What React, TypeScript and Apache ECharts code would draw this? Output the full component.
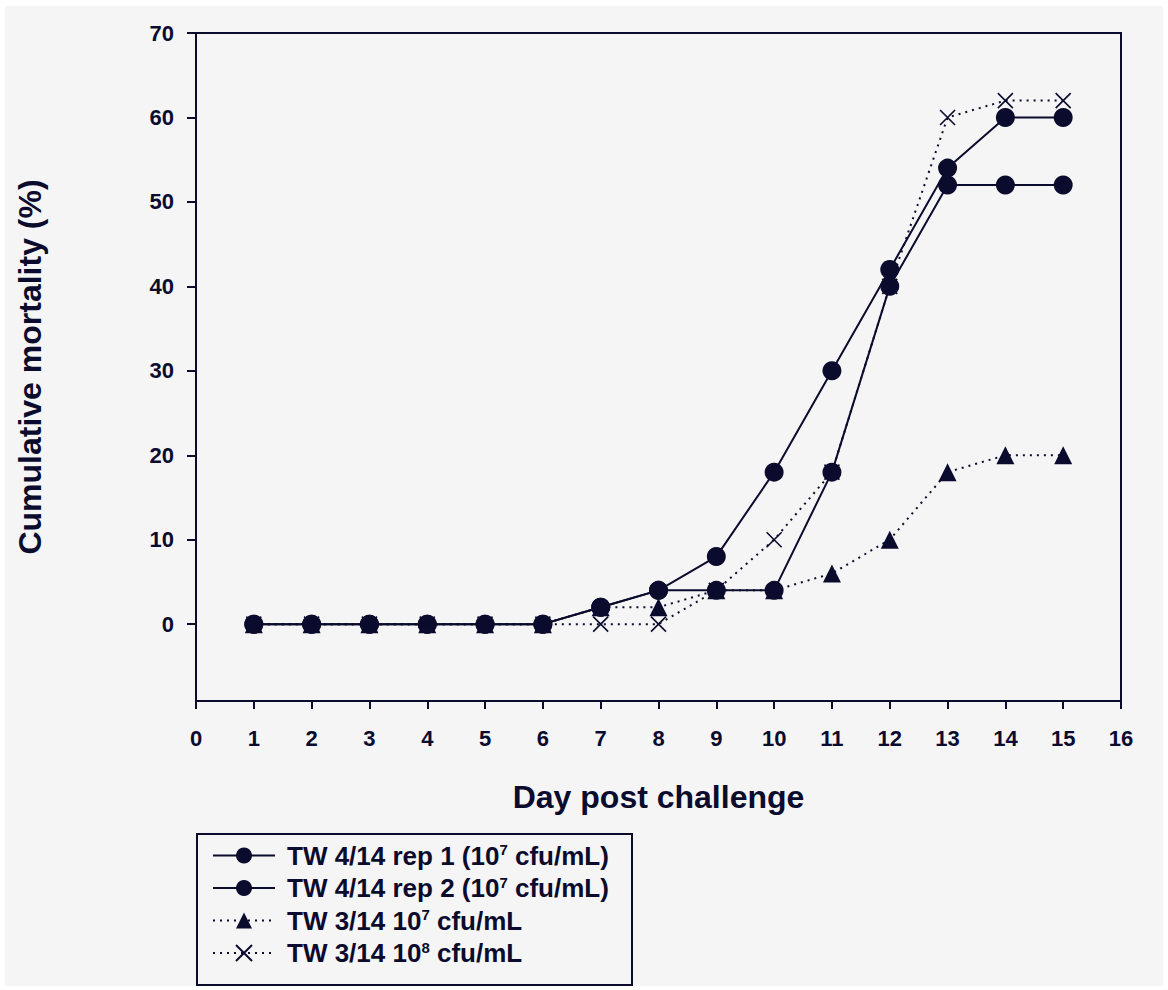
import React, { useEffect, useRef } from "react";
import * as echarts from "echarts";

const days = [1, 2, 3, 4, 5, 6, 7, 8, 9, 10, 11, 12, 13, 14, 15];
const rep1 = [0, 0, 0, 0, 0, 0, 2, 4, 8, 18, 30, 42, 54, 60, 60];
const rep2 = [0, 0, 0, 0, 0, 0, 2, 4, 4, 4, 18, 40, 52, 52, 52];
const tw314e7 = [0, 0, 0, 0, 0, 0, 2, 2, 4, 4, 6, 10, 18, 20, 20];
const tw314e8 = [0, 0, 0, 0, 0, 0, 0, 0, 4, 10, 18, 40, 60, 62, 62];
const seriesNames = ["rep1", "rep2", "e7", "e8"];
const legendLabels = [
  "TW 4/14 rep 1 (10{sup|7} cfu/mL)",
  "TW 4/14 rep 2 (10{sup|7} cfu/mL)",
  "TW 3/14 10{sup|7} cfu/mL",
  "TW 3/14 10{sup|8} cfu/mL",
];
const yTicks = [0, 10, 20, 30, 40, 50, 60, 70];

const INK = "#0b0b2e";
const FONT = "Liberation Sans, Arial, sans-serif";
const CROSS = "path://M0,0L10,10M10,0L0,10";

export default function App() {
  const ref = useRef<HTMLDivElement>(null);
  useEffect(() => {
    if (!ref.current) return;
    const chart = echarts.init(ref.current, null, { renderer: "svg" });
    const pts = (arr: number[]) => days.map((d, i) => [d, arr[i]]);
    const solid = { color: INK, width: 2, type: "solid" as const };
    const dotted = { color: INK, width: 2, type: [2, 5] as any };
    chart.setOption({
      animation: false,
      backgroundColor: "#ffffff",
      textStyle: { fontFamily: FONT },
      graphic: [
        { type: "rect", z: -10, shape: { x: 5, y: 6, width: 1158, height: 980 }, style: { fill: "#f5f5f5" } },
        { type: "rect", z: 5, shape: { x: 197, y: 834, width: 435, height: 151 }, style: { fill: "none", stroke: INK, lineWidth: 2 } },
      ],
      grid: {
        left: 196,
        top: 33,
        width: 925,
        height: 668,
        show: true,
        borderColor: INK,
        borderWidth: 2,
        backgroundColor: "transparent",
      },
      legend: {
        left: 207,
        top: 837,
        orient: "vertical",
        itemWidth: 62,
        itemHeight: 20,
        itemGap: 6,
        data: seriesNames,
        formatter: (name: string) => legendLabels[seriesNames.indexOf(name)],
        textStyle: {
          color: INK,
          fontSize: 26,
          lineHeight: 26,
          fontWeight: "bold",
          fontFamily: FONT,
          padding: [0, 0, 0, 7],
          rich: {
            sup: { fontSize: 15, fontWeight: "bold", color: INK, fontFamily: FONT, padding: [0, 0, 12, 0] },
          },
        },
      },
      xAxis: {
        type: "value",
        min: 0,
        max: 16,
        interval: 1,
        name: "Day post challenge",
        nameLocation: "middle",
        nameGap: 80,
        nameTextStyle: { color: INK, fontSize: 32, fontWeight: "bold", fontFamily: FONT },
        axisLine: { show: true, onZero: false, lineStyle: { color: INK, width: 2 } },
        axisTick: { show: true, inside: false, length: 8, lineStyle: { color: INK, width: 2 } },
        axisLabel: { color: INK, fontSize: 22, fontWeight: "bold", margin: 26, fontFamily: FONT },
        splitLine: { show: false },
      },
      yAxis: {
        type: "value",
        min: -9.1,
        max: 70,
        name: "Cumulative mortality (%)",
        nameLocation: "middle",
        nameGap: 150,
        nameTextStyle: { color: INK, fontSize: 32, fontWeight: "bold", fontFamily: FONT },
        axisLine: { show: true, onZero: false, lineStyle: { color: INK, width: 2 } },
        axisTick: { show: true, length: 9, lineStyle: { color: INK, width: 2 }, customValues: yTicks },
        axisLabel: { color: INK, fontSize: 22, fontWeight: "bold", margin: 22, fontFamily: FONT, customValues: yTicks },
        splitLine: { show: false },
      },
      series: [
        {
          name: "rep1",
          type: "line",
          data: pts(rep1),
          symbol: "circle",
          symbolSize: 19,
          lineStyle: solid,
          itemStyle: { color: INK },
          z: 3,
        },
        {
          name: "rep2",
          type: "line",
          data: pts(rep2),
          symbol: "circle",
          symbolSize: 19,
          lineStyle: solid,
          itemStyle: { color: INK },
          z: 3,
        },
        {
          name: "e7",
          type: "line",
          data: pts(tw314e7),
          symbol: "triangle",
          symbolSize: 18,
          lineStyle: dotted,
          itemStyle: { color: INK },
          z: 2,
        },
        {
          name: "e8",
          type: "line",
          data: pts(tw314e8),
          symbol: CROSS,
          symbolSize: 15,
          lineStyle: dotted,
          itemStyle: { color: "none", borderColor: INK, borderWidth: 1.6 },
          z: 4,
        },
      ],
    });
    return () => chart.dispose();
  }, []);
  return (
    <div
      ref={ref}
      style={{ position: "fixed", left: 0, top: 0, width: 1168, height: 990 }}
    />
  );
}
